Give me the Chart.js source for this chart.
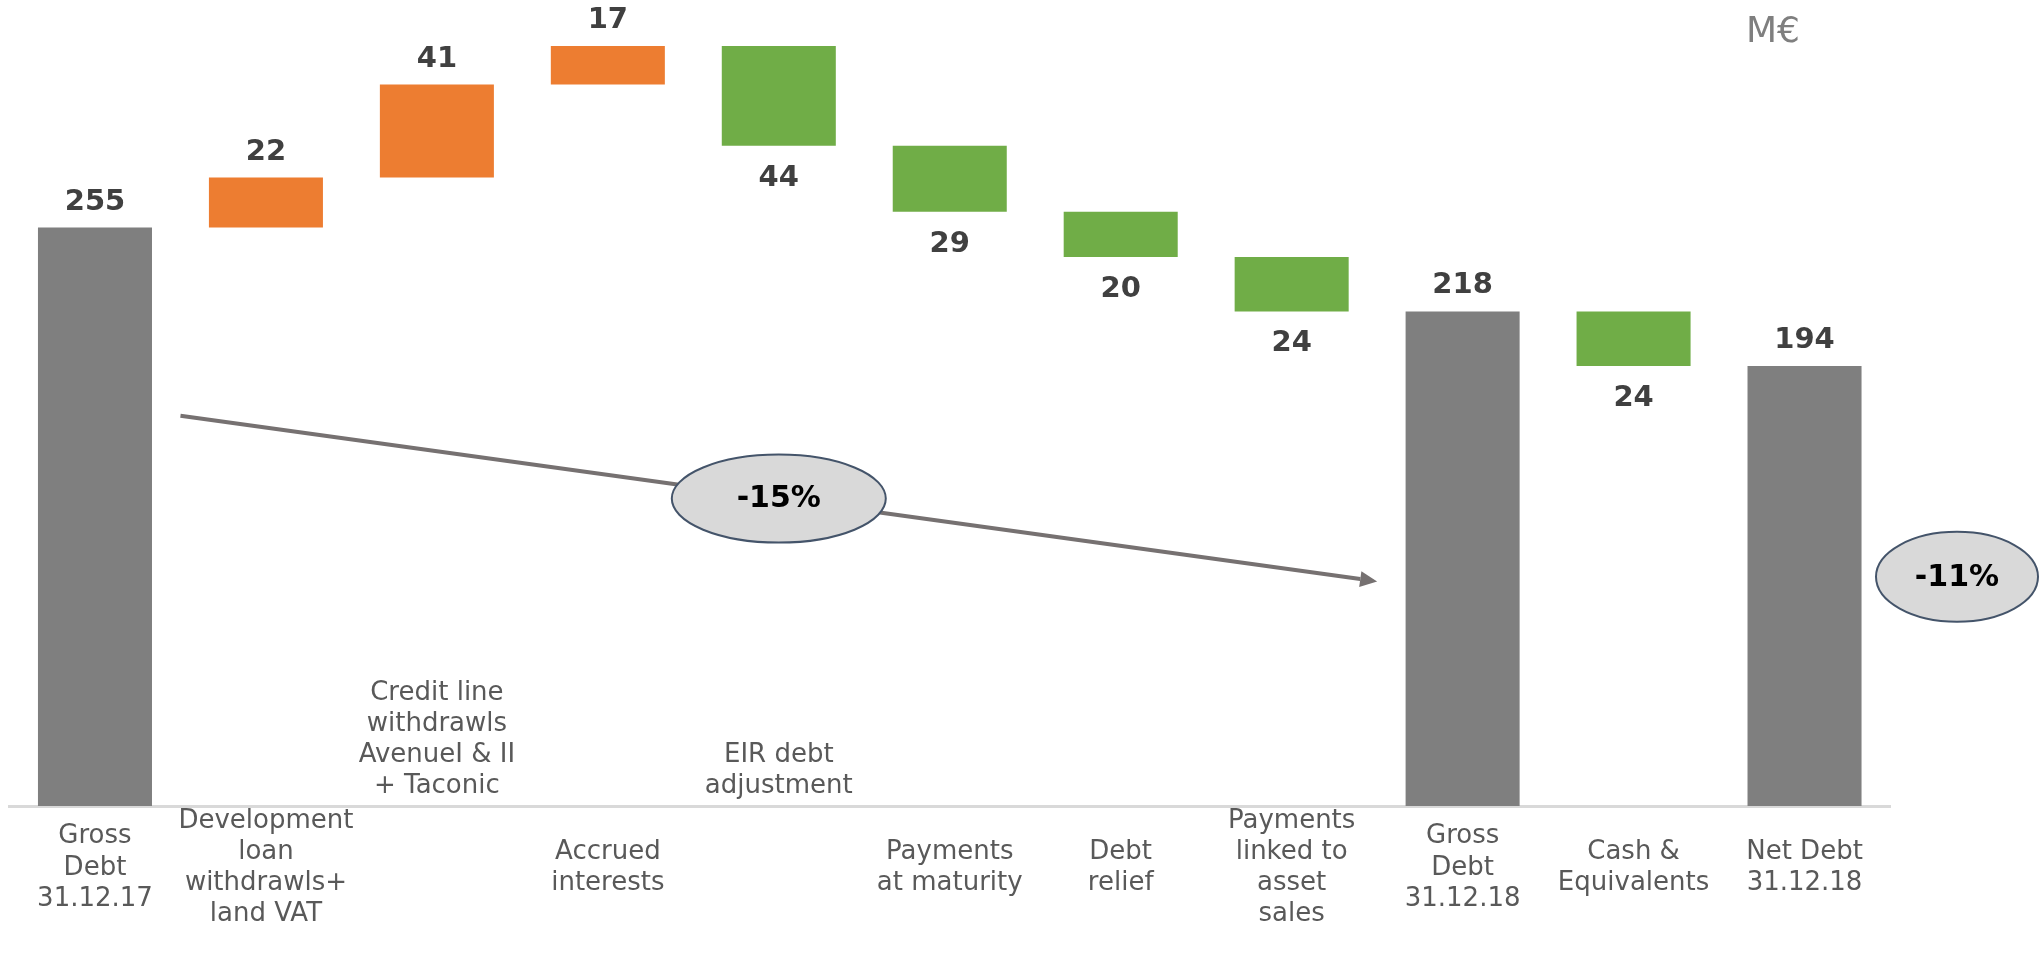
<!DOCTYPE html>
<html>
<head>
<meta charset="utf-8">
<script src="https://cdn.jsdelivr.net/npm/chart.js@4.4.1/dist/chart.umd.min.js"></script>
<style>
  html, body { margin: 0; padding: 0; background: #fff; }
  #wrap { width: 2039px; height: 954px; position: relative; }
</style>
</head>
<body>
<div id="wrap"><canvas id="debt-bridge"></canvas></div>
<script>
"use strict";
const steps = [
    ["Gross", "Debt", "31.12.17"],
    ["Development", "loan", "withdrawls+", "land VAT"],
    ["Credit line", "withdrawls", "AvenueI & II", "+ Taconic"],
    ["Accrued", "interests"],
    ["EIR debt", "adjustment"],
    ["Payments", "at maturity"],
    ["Debt", "relief"],
    ["Payments", "linked to", "asset", "sales"],
    ["Gross", "Debt", "31.12.18"],
    ["Cash &", "Equivalents"],
    ["Net Debt", "31.12.18"],
];
const amounts = [255, 22, 41, 17, -44, -29, -20, -24, 218, -24, 194];
const totalSteps = [0, 8, 10];
const raisedSteps = [2, 4]; // these labels sit above the axis line
const unitLabel = "M€";

const FONT = "'DejaVu Sans', Verdana, sans-serif";
const labelGrey = "#595959";

// floating bars: totals start at zero, movements start where the previous step ended
let running = 0;
const ranges = amounts.map((v, i) => {
    if (totalSteps.includes(i)) {
        running = v;
        return [0, v];
    }
    const from = running;
    running += v;
    return [from, running];
});
const barColors = amounts.map((v, i) =>
    totalSteps.includes(i) ? "#7f7f7f" : v > 0 ? "#ed7d31" : "#70ad47"
);

const pct = (from, to) => Math.round(((to - from) / from) * 100) + "%";
const grossChange = pct(amounts[totalSteps[0]], amounts[totalSteps[1]]);
const netChange = pct(amounts[totalSteps[1]], amounts[totalSteps[2]]);

const valueLabels = {
    id: "valueLabels",
    afterDatasetsDraw(chart) {
        const ctx = chart.ctx;
        const bars = chart.getDatasetMeta(0).data;
        ctx.save();
        ctx.font = "bold 29px " + FONT;
        ctx.fillStyle = "#404040";
        ctx.textAlign = "center";
        ctx.textBaseline = "alphabetic";
        bars.forEach((bar, i) => {
            const v = amounts[i];
            const top = Math.min(bar.y, bar.base);
            const bottom = Math.max(bar.y, bar.base);
            if (v > 0) {
                ctx.fillText(String(v), bar.x, top - 18);
            } else {
                ctx.fillText(String(-v), bar.x, bottom + 40);
            }
        });

        // step names that are written above the axis
        const x = chart.scales.x;
        ctx.font = "26px " + FONT;
        ctx.fillStyle = labelGrey;
        ctx.textBaseline = "middle";
        raisedSteps.forEach((i) => {
            const lines = steps[i];
            const px = x.getPixelForValue(i);
            let py = chart.chartArea.bottom - 20 - (lines.length - 1) * 31;
            lines.forEach((line) => {
                ctx.fillText(line, px, py);
                py += 31;
            });
        });

        ctx.font = "36px " + FONT;
        ctx.fillStyle = "#7f7f7f";
        ctx.textBaseline = "alphabetic";
        ctx.fillText(unitLabel, chart.chartArea.right - 117, 42);
        ctx.restore();
    },
};

function bubble(ctx, cx, cy, rx, ry, text) {
    ctx.beginPath();
    ctx.ellipse(cx, cy, rx, ry, 0, 0, Math.PI * 2);
    ctx.fillStyle = "#d9d9d9";
    ctx.fill();
    ctx.lineWidth = 2;
    ctx.strokeStyle = "#44546a";
    ctx.stroke();
    ctx.fillStyle = "#000";
    ctx.font = "bold 30px " + FONT;
    ctx.textAlign = "center";
    ctx.textBaseline = "middle";
    ctx.fillText(text, cx, cy + 1);
}

const trendArrow = {
    id: "trendArrow",
    afterDraw(chart) {
        const { ctx, scales } = chart;
        const x0 = scales.x.getPixelForValue(0.5);
        const y0 = scales.y.getPixelForValue(172);
        const x1 = scales.x.getPixelForValue(7.5);
        const y1 = scales.y.getPixelForValue(99);
        const ang = Math.atan2(y1 - y0, x1 - x0);
        const head = 17;
        ctx.save();
        ctx.strokeStyle = "#767171";
        ctx.fillStyle = "#767171";
        ctx.lineWidth = 4;
        ctx.beginPath();
        ctx.moveTo(x0, y0);
        ctx.lineTo(x1 - Math.cos(ang) * head, y1 - Math.sin(ang) * head);
        ctx.stroke();
        ctx.beginPath();
        ctx.moveTo(x1, y1);
        ctx.lineTo(
            x1 - Math.cos(ang) * head + Math.sin(ang) * 8,
            y1 - Math.sin(ang) * head - Math.cos(ang) * 8
        );
        ctx.lineTo(
            x1 - Math.cos(ang) * head - Math.sin(ang) * 8,
            y1 - Math.sin(ang) * head + Math.cos(ang) * 8
        );
        ctx.closePath();
        ctx.fill();

        bubble(ctx, (x0 + x1) / 2, (y0 + y1) / 2, 107, 44, grossChange);
        bubble(ctx, chart.chartArea.right + 67, scales.y.getPixelForValue(101), 81, 45, netChange);
        ctx.restore();
    },
};

const bridgeChart = new Chart(document.getElementById("debt-bridge"), {
    type: "bar",
    data: {
        labels: steps,
        datasets: [
            {
                data: ranges,
                backgroundColor: barColors,
                borderWidth: 0,
                barPercentage: 0.667,
                categoryPercentage: 1,
            },
        ],
    },
    options: {
        responsive: true,
        maintainAspectRatio: false,
        animation: false,
        layout: { padding: { left: 9.5, right: 149, top: 12, bottom: 0 } },
        plugins: {
            legend: { display: false },
            tooltip: { enabled: false },
        },
        scales: {
            x: {
                grid: { display: false, drawTicks: false },
                border: { display: true, color: "#d9d9d9", width: 3 },
                ticks: {
                    autoSkip: false,
                    maxRotation: 0,
                    crossAlign: "center",
                    padding: 15,
                    color: labelGrey,
                    font: { family: FONT, size: 26, lineHeight: 1.2 },
                    callback: (value) => (raisedSteps.includes(value) ? "" : steps[value]),
                },
                afterFit: (scale) => {
                    scale.height = 148;
                },
            },
            y: {
                display: false,
                min: 0,
                max: 350,
            },
        },
    },
    plugins: [valueLabels, trendArrow],
});
</script>
</body>
</html>
